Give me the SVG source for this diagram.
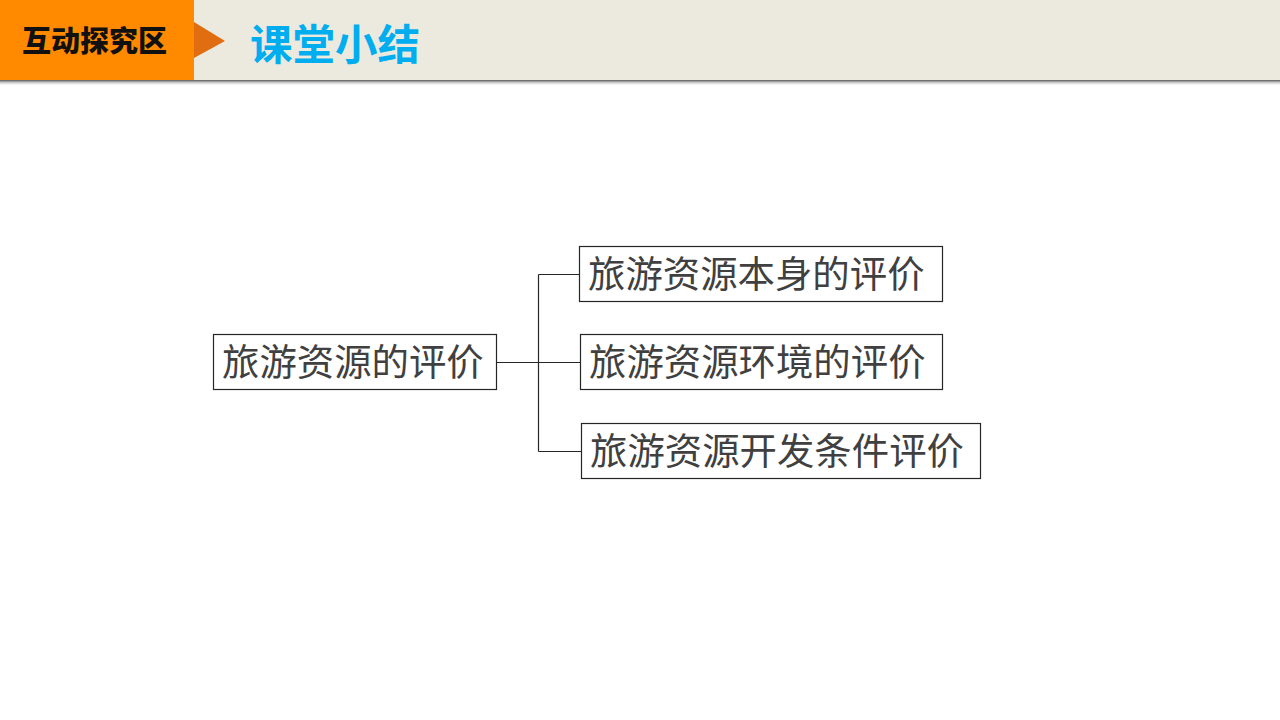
<svg xmlns="http://www.w3.org/2000/svg" width="1280" height="720" viewBox="0 0 1280 720">
<defs>
<style>
.box{fill:#fff;stroke:#262626;stroke-width:1.2}
.t{font-family:"Noto Sans CJK SC","Microsoft YaHei",sans-serif;font-size:37.4px;fill:#404040}
.c{fill:none;stroke:#262626;stroke-width:1.2}
</style>
<linearGradient id="sh" x1="0" y1="0" x2="0" y2="1">
<stop offset="0" stop-color="#555"/>
<stop offset="1" stop-color="#ffffff" stop-opacity="0"/>
</linearGradient>
</defs>
<rect width="1280" height="720" fill="#fff"/>
<g id="header">
<rect x="0" y="80" width="1280" height="6" fill="url(#sh)"/>
<rect x="0" y="0" width="1280" height="80" fill="#ECEADF"/>
<rect x="0" y="0" width="194" height="80" fill="#FF8A00"/>
<polygon points="194,22 225,41 194,58" fill="#E06E10"/>
<text x="22" y="52" font-family="'Noto Sans CJK SC',sans-serif" font-size="29" font-weight="900" fill="#111">互动探究区</text>
<text x="250" y="60" font-family="'Noto Sans CJK SC',sans-serif" font-size="42.5" font-weight="bold" fill="#00AEEF">课堂小结</text>
</g>
<g id="connectors">
<path class="c" d="M496.5 362.5H580.5M538.5 274.5V451.5M538.5 274.5H579.5M538.5 451.5H581.5"/>
</g>
<g id="root">
<rect class="box" x="213.5" y="334.5" width="283" height="55"/>
<text class="t" x="222" y="376">旅游资源的评价</text>
</g>
<g id="n1">
<rect class="box" x="579.5" y="246.5" width="363" height="55"/>
<text class="t" x="588" y="288">旅游资源本身的评价</text>
</g>
<g id="n2">
<rect class="box" x="580.5" y="334.5" width="362" height="55"/>
<text class="t" x="589" y="376">旅游资源环境的评价</text>
</g>
<g id="n3">
<rect class="box" x="581.5" y="423.5" width="399" height="55"/>
<text class="t" x="590" y="465">旅游资源开发条件评价</text>
</g>
</svg>
